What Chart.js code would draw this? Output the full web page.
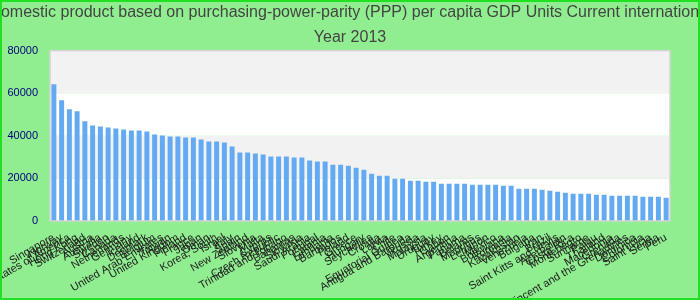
<!DOCTYPE html>
<html>
<head>
<meta charset="utf-8">
<title>GDP PPP per capita 2013</title>
<script src="https://cdn.jsdelivr.net/npm/chart.js@4.4.1/dist/chart.umd.min.js"></script>
<style>
    html, body { margin: 0; padding: 0; background: #90ee90; }
    #wrap { position: relative; width: 700px; height: 300px; }
    #frame { position: absolute; left: 0; top: 0; width: 700px; height: 300px; box-sizing: border-box; border: 2px solid #22e022; pointer-events: none; }
</style>
</head>
<body>
<div id="wrap">
    <canvas id="myChart" width="700" height="300"></canvas>
    <div id="frame"></div>
</div>
<script>
const titleLines = [
    'Gross domestic product based on purchasing-power-parity (PPP) per capita GDP Units Current international dollar',
    'Year 2013'
]

const countries = [
    'Singapore', 'Norway', 'United States of America', 'Hong Kong', 'Switzerland', 'Austria', 'Australia', 'Sweden', 'Canada', 'Netherlands',
    'Germany', 'Iceland', 'Denmark', 'Belgium', 'United Arab Emirates', 'Taiwan', 'United Kingdom', 'Finland', 'France', 'Japan',
    'Oman', 'Korea, South', 'Israel', 'Italy', 'Spain', 'New Zealand', 'Slovenia', 'Malta', 'Cyprus', 'Czech Republic',
    'Trinidad and Tobago', 'Bahamas', 'Slovakia', 'Saudi Arabia', 'Portugal', 'Estonia', 'Lithuania', 'Barbados', 'Poland', 'Greece',
    'Hungary', 'Seychelles', 'Croatia', 'Latvia', 'Chile', 'Equatorial Guinea', 'Antigua and Barbuda', 'Russia', 'Malaysia', 'Uruguay',
    'Turkey', 'Gabon', 'Argentina', 'Panama', 'Belarus', 'Mauritius', 'Lebanon', 'Mexico', 'Botswana', 'Romania',
    'Kazakhstan', 'Venezuela', 'Bulgaria', 'Iran', 'Brazil', 'Saint Kitts and Nevis', 'Azerbaijan', 'Costa Rica', 'Montenegro', 'Suriname',
    'Palau', 'Thailand', 'Macedonia', 'Grenada', 'Saint Vincent and the Grenadines', 'Dominica', 'Colombia', 'Saint Lucia', 'Serbia', 'Peru'
]

const gdpValues = [
    64260, 56700, 52450, 51500, 46780, 44890, 44420, 43940, 43470, 43000,
    42530, 42530, 42050, 40640, 40160, 39690, 39690, 39220, 39220, 38270,
    37330, 37330, 36860, 34970, 32130, 32130, 31660, 31190, 30240, 30240,
    30240, 29770, 29770, 28350, 27880, 27880, 26460, 26460, 25990, 25040,
    24100, 22210, 21260, 21260, 19850, 19850, 18900, 18900, 18430, 18430,
    17480, 17480, 17480, 17480, 17010, 17010, 17010, 17010, 16540, 16540,
    15120, 15120, 15120, 14650, 14180, 13700, 13230, 12760, 12760, 12760,
    12290, 12290, 11810, 11810, 11810, 11810, 11340, 11340, 11340, 10870
]

const yTicks = [0, 20000, 40000, 60000, 80000]

// the long title runs off both sides of the canvas in the original, so don't let
// Chart.js squeeze it to fit and keep it centred on the whole canvas
const TitleElement = Chart.Title && Chart.Title._element
if (TitleElement && TitleElement.prototype._drawArgs) {
    const origDrawArgs = TitleElement.prototype._drawArgs
    TitleElement.prototype._drawArgs = function(offset) {
        const args = origDrawArgs.call(this, offset)
        args.maxWidth = 3000
        args.titleX = this.chart.width / 2
        return args
    }
}

// alternating white / light grey bands behind the bars, plus a thin frame round the plot
const bandPlugin = {
    id: 'bands',
    beforeDraw(chart) {
        const {ctx, chartArea, scales} = chart
        const y = scales.y
        ctx.save()
        for (let i = 0; i < yTicks.length - 1; i++) {
            const top = y.getPixelForValue(yTicks[i + 1])
            const bottom = y.getPixelForValue(yTicks[i])
            ctx.fillStyle = i % 2 === 0 ? '#ffffff' : '#f2f2f2'
            ctx.fillRect(chartArea.left, top, chartArea.right - chartArea.left, bottom - top)
        }
        ctx.restore()
    },
    afterDatasetsDraw(chart) {
        const {ctx, chartArea} = chart
        ctx.save()
        ctx.strokeStyle = '#d4d4d4'
        ctx.lineWidth = 1.5
        ctx.strokeRect(chartArea.left, chartArea.top, chartArea.right - chartArea.left, chartArea.bottom - chartArea.top)
        ctx.restore()
    }
}

const ctx = document.getElementById('myChart').getContext('2d')

new Chart(ctx, {
    type: 'bar',
    data: {
        labels: countries,
        datasets: [{
            label: 'GDP PPP per capita',
            data: gdpValues,
            backgroundColor: '#64aaf2',
            borderWidth: 0,
            barPercentage: 0.8,
            categoryPercentage: 0.8,
        }]
    },
    options: {
        responsive: false,
        animation: false,
        layout: {
            padding: { top: 0, right: 30, bottom: 0, left: 0 }
        },
        plugins: {
            legend: { display: false },
            tooltip: { enabled: false },
            title: {
                display: true,
                text: titleLines,
                color: '#444444',
                font: { family: "'Liberation Sans', Arial, sans-serif", size: 16, weight: 'normal', lineHeight: 1.55 },
                padding: { top: 0, bottom: 1 },
            }
        },
        scales: {
            x: {
                grid: { display: false },
                border: { display: false },
                ticks: {
                    autoSkip: false,
                    maxRotation: 30,
                    minRotation: 30,
                    color: '#222222',
                    padding: 2,
                    font: { family: "'Liberation Sans', Arial, sans-serif", size: 11 },
                },
                afterFit: function(scale) {
                    scale.height = 79
                }
            },
            y: {
                min: 0,
                max: 80000,
                grid: { display: false },
                border: { display: false },
                ticks: {
                    stepSize: 20000,
                    color: '#000080',
                    padding: 4,
                    font: { family: "'Liberation Sans', Arial, sans-serif", size: 11 },
                    callback: function(value) {
                        return String(value)
                    }
                },
                afterFit: function(scale) {
                    scale.width = 50
                }
            }
        }
    },
    plugins: [bandPlugin]
})
</script>
</body>
</html>
